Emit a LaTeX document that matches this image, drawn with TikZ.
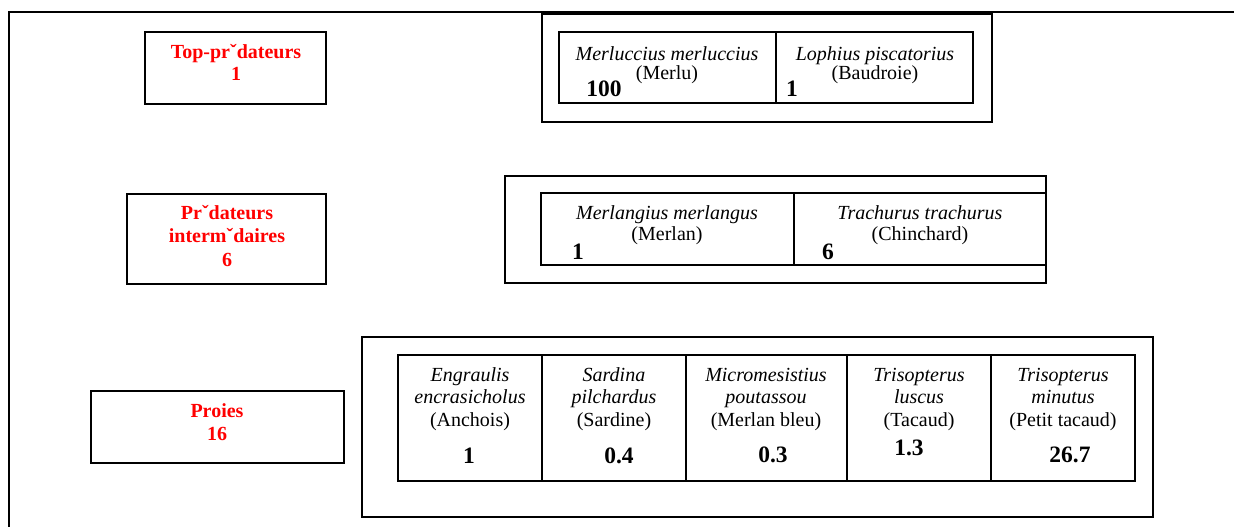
\documentclass[tikz,border=0pt]{standalone}
\usepackage{fontspec}
\setmainfont{Liberation Serif}
\begin{document}
\begin{tikzpicture}[x=1pt,y=-1pt,
  box/.style={draw=black,line width=1.3pt,inner sep=0pt,outer sep=0pt,anchor=north west},
  txt/.style={anchor=base,inner sep=0pt,font=\fontsize{20}{22}\selectfont},
  sp/.style={txt,font=\fontsize{20}{22}\selectfont\itshape},
  num/.style={anchor=base,inner sep=0pt,font=\fontsize{23.5}{26}\selectfont\bfseries},
  lvl/.style={anchor=base,inner sep=0pt,text=red,font=\fontsize{20}{22}\selectfont\bfseries}]
\useasboundingbox (0,0) rectangle (1234,527);

% page frame
\draw[line width=1.9pt] (1234,12) -- (9,12) -- (9,527);

% level labels
\node[box,minimum width=181pt,minimum height=72pt] (lvltop) at (145,32) {};
\node[lvl] (lvltopA) at (236,59) {Top-prˇdateurs};
\node[lvl] (lvltopB) at (236,81) {1};

\node[box,minimum width=199pt,minimum height=90pt] (lvlmid) at (127,194) {};
\node[lvl] (lvlmidA) at (227,219) {Prˇdateurs};
\node[lvl] (lvlmidB) at (227,242.5) {intermˇdaires};
\node[lvl] (lvlmidC) at (227,266) {6};

\node[box,minimum width=253pt,minimum height=72pt] (lvlbot) at (91,391) {};
\node[lvl] (lvlbotA) at (217,417) {Proies};
\node[lvl] (lvlbotB) at (217,440) {16};

% top predators
\node[box,minimum width=450pt,minimum height=108pt] (grptop) at (542,14) {};
\node[box,minimum width=217pt,minimum height=71pt] (merlu) at (559,32) {};
\node[box,minimum width=197pt,minimum height=71pt] (baud) at (776,32) {};
\node[sp] (merluA) at (667,60) {Merluccius merluccius};
\node[txt] (merluB) at (667,79) {(Merlu)};
\node[num] (merluN) at (604,96) {100};
\node[sp] (baudA) at (875,60) {Lophius piscatorius};
\node[txt] (baudB) at (875,79) {(Baudroie)};
\node[num] (baudN) at (792,96) {1};

% intermediate predators
\node[box,minimum width=541pt,minimum height=107pt] (grpmid) at (505,176) {};
\node[box,minimum width=253pt,minimum height=72pt] (merlan) at (541,193) {};
\node[box,minimum width=252pt,minimum height=72pt] (chinch) at (794,193) {};
\node[sp] (merlanA) at (667,219) {Merlangius merlangus};
\node[txt] (merlanB) at (667,240) {(Merlan)};
\node[num] (merlanN) at (578,259) {1};
\node[sp] (chinchA) at (920,219) {Trachurus trachurus};
\node[txt] (chinchB) at (920,240) {(Chinchard)};
\node[num] (chinchN) at (828,259) {6};

% prey
\node[box,minimum width=791pt,minimum height=180pt] (grpbot) at (362,337) {};
\node[box,minimum width=144pt,minimum height=126pt] (anch) at (398,355) {};
\node[box,minimum width=144pt,minimum height=126pt] (sard) at (542,355) {};
\node[box,minimum width=161pt,minimum height=126pt] (mbleu) at (686,355) {};
\node[box,minimum width=144pt,minimum height=126pt] (tac) at (847,355) {};
\node[box,minimum width=144pt,minimum height=126pt] (ptac) at (991,355) {};

\node[sp] (anchA) at (470,381) {Engraulis};
\node[sp] (anchB) at (470,403.5) {encrasicholus};
\node[txt] (anchC) at (470,426) {(Anchois)};
\node[num] (anchN) at (469,463) {1};

\node[sp] (sardA) at (614,381) {Sardina};
\node[sp] (sardB) at (614,403.5) {pilchardus};
\node[txt] (sardC) at (614,426) {(Sardine)};
\node[num] (sardN) at (619,463) {0.4};

\node[sp] (mbleuA) at (766,381) {Micromesistius};
\node[sp] (mbleuB) at (766,403.5) {poutassou};
\node[txt] (mbleuC) at (766,426) {(Merlan bleu)};
\node[num] (mbleuN) at (773,462) {0.3};

\node[sp] (tacA) at (919,381) {Trisopterus};
\node[sp] (tacB) at (919,403.5) {luscus};
\node[txt] (tacC) at (919,426) {(Tacaud)};
\node[num] (tacN) at (909,455) {1.3};

\node[sp] (ptacA) at (1063,381) {Trisopterus};
\node[sp] (ptacB) at (1063,403.5) {minutus};
\node[txt] (ptacC) at (1063,426) {(Petit tacaud)};
\node[num] (ptacN) at (1070,462) {26.7};
\end{tikzpicture}
\end{document}
